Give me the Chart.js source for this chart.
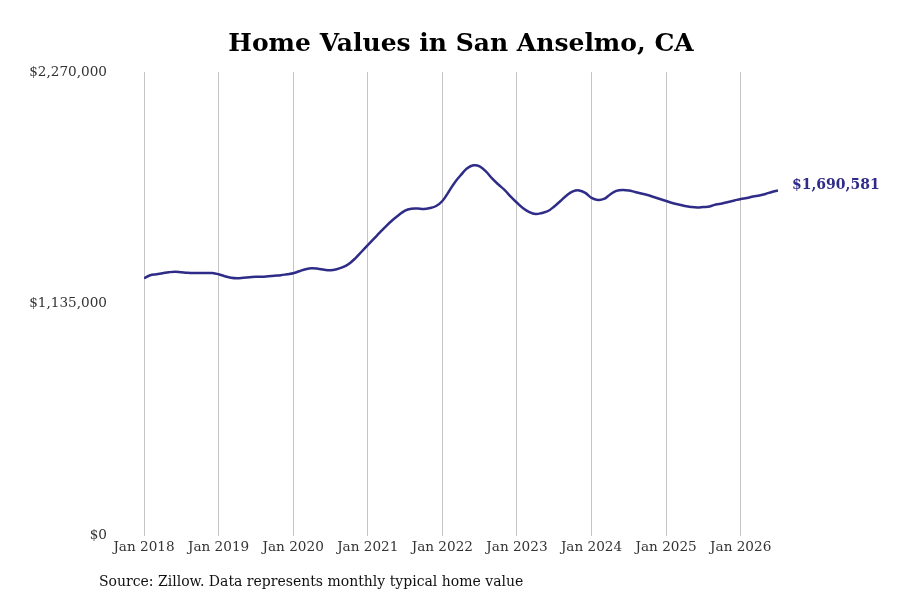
<!DOCTYPE html>
<html>
<head>
<meta charset="utf-8">
<title>Home Values in San Anselmo, CA</title>
<script src="https://cdn.jsdelivr.net/npm/chart.js@4/dist/chart.umd.min.js"></script>
<style>
    html, body { margin: 0; padding: 0; background: #fff; }
    #grafico { display: block; }
</style>
</head>
<body>
<canvas id="grafico" width="900" height="600"></canvas>
<script>
// monthly typical home value, Jan 2018 .. Jul 2026
const homeValues = [
    1260300, 1275000, 1279900, 1284900, 1289800, 1292200, 1289800, 1287300, 1286000, 1286000, 1286000, 1286000,
    1279900, 1270100, 1262700, 1260300, 1262700, 1265200, 1267700, 1267700, 1270100, 1272600, 1275000, 1279900,
    1284900, 1294700, 1304500, 1309400, 1307000, 1302100, 1299600, 1304500, 1314300, 1331500, 1358000, 1390000,
    1422000, 1454000, 1486000, 1517000, 1545300, 1570000, 1591900, 1601000, 1601800, 1599300, 1604000, 1614000,
    1638600, 1682800, 1729500, 1766400, 1798300, 1813000, 1808000, 1783600, 1749200, 1719700, 1692700, 1660000,
    1630000, 1603000, 1584000, 1574700, 1579700, 1589500, 1611600, 1638600, 1665600, 1685300, 1690200, 1678000,
    1653400, 1643500, 1648400, 1670600, 1687800, 1692700, 1690200, 1682800, 1675500, 1668100, 1658300, 1648400,
    1638600, 1628800, 1621400, 1614100, 1609100, 1606700, 1609100, 1611600, 1621400, 1626300, 1633700, 1641100,
    1648400, 1653400, 1660700, 1665600, 1673000, 1682800, 1690581
];

const xTickLabels = ['Jan 2018', 'Jan 2019', 'Jan 2020', 'Jan 2021', 'Jan 2022', 'Jan 2023', 'Jan 2024', 'Jan 2025', 'Jan 2026'];
const yTickValues = [0, 1135000, 2270000];

const corLinha  = '#2f2c88';
const fonteBase = "'DejaVu Serif', serif";
const titulo    = 'Home Values in San Anselmo, CA';
const fonteFim  = 'Source: Zillow. Data represents monthly typical home value';

function formatarMoeda(valor) {
    return '$' + Math.round(valor).toLocaleString('en-US');
}

const pontos = homeValues.map((v, i) => ({ x: i, y: v }));

// title, label at the end of the line, source note
const extras = {
    id: 'extras',
    afterDatasetsDraw(chart) {
        const { ctx } = chart;
        const meta = chart.getDatasetMeta(0);
        const ultimo = meta.data[meta.data.length - 1];
        ctx.save();
        ctx.textBaseline = 'middle';

        ctx.font = `bold 25px ${fonteBase}`;
        ctx.fillStyle = '#000';
        ctx.textAlign = 'center';
        ctx.fillText(titulo, 461, 44);

        ctx.font = `bold 14px ${fonteBase}`;
        ctx.fillStyle = corLinha;
        ctx.textAlign = 'left';
        ctx.fillText(formatarMoeda(homeValues[homeValues.length - 1]), ultimo.x + 14, ultimo.y - 5);

        ctx.font = `14px ${fonteBase}`;
        ctx.fillStyle = '#111';
        ctx.fillText(fonteFim, 99, 582);
        ctx.restore();
    }
};

new Chart(document.getElementById('grafico').getContext('2d'), {
    type: 'line',
    data: {
        datasets: [{
            label: 'Home value',
            data: pontos,
            borderColor: corLinha,
            backgroundColor: corLinha,
            borderWidth: 2.5,
            tension: 0.4,
            pointRadius: 0,
            fill: false
        }]
    },
    options: {
        responsive: false,
        animation: false,
        layout: { padding: { left: 29, right: 122, top: 72, bottom: 40 } },
        scales: {
            x: {
                type: 'linear',
                min: 0,
                max: homeValues.length - 1,
                afterBuildTicks: axis => { axis.ticks = xTickLabels.map((_, i) => ({ value: i * 12 })); },
                ticks: {
                    padding: 4,
                    color: '#333',
                    font: { family: fonteBase, size: 13.6 },
                    maxRotation: 0,
                    autoSkip: false,
                    callback: v => xTickLabels[v / 12]
                },
                grid: { color: '#c4c4c4', lineWidth: 1, drawTicks: false },
                border: { display: false }
            },
            y: {
                min: 0,
                max: yTickValues[yTickValues.length - 1],
                afterBuildTicks: axis => { axis.ticks = yTickValues.map(v => ({ value: v })); },
                afterFit: axis => { axis.width = 115; },
                ticks: {
                    padding: 37,
                    color: '#333',
                    font: { family: fonteBase, size: 13.6 },
                    callback: v => formatarMoeda(v)
                },
                grid: { display: false, drawTicks: false },
                border: { display: false }
            }
        },
        plugins: {
            legend: { display: false },
            tooltip: { enabled: false },
            title: { display: false }
        }
    },
    plugins: [extras]
});
</script>
</body>
</html>
